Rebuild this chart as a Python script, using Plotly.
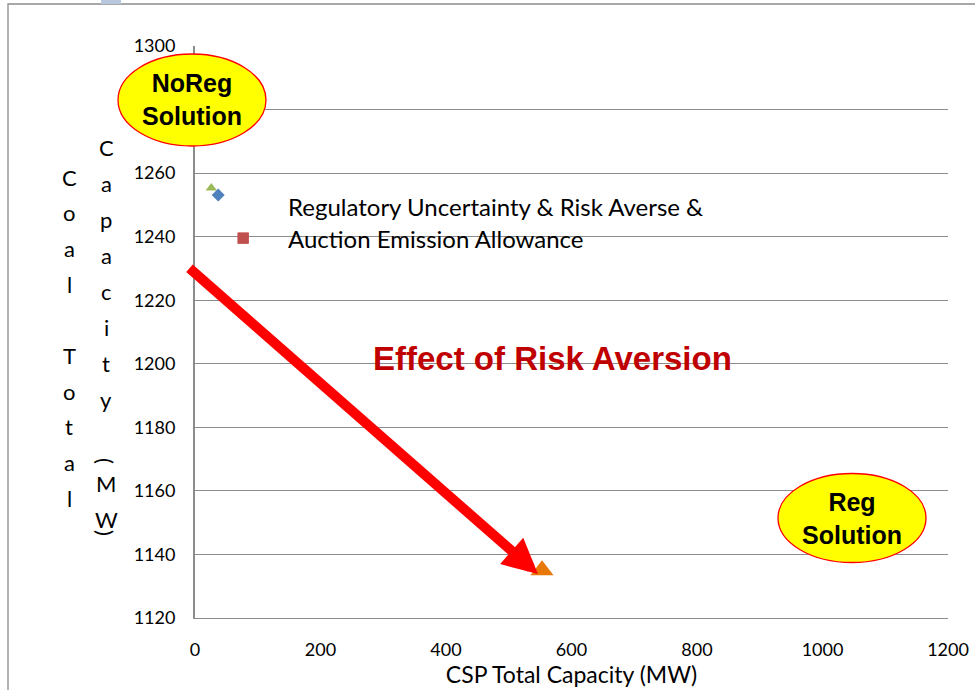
import plotly.graph_objects as go

# CSP total capacity (MW) vs coal total capacity (MW) for each case
noreg_x = [26]
noreg_y = [1255.3]
base_x = [37]
base_y = [1253.1]
risk_name = "Regulatory Uncertainty & Risk Averse &<br>Auction Emission Allowance"
risk_x = [77]
risk_y = [1239.6]
reg_x = [553]
reg_y = [1135]

x_ticks = [0, 200, 400, 600, 800, 1000, 1200]
y_ticks = [1120, 1140, 1160, 1180, 1200, 1220, 1240, 1260, 1280, 1300]
# the 1280 label sits under the NoReg callout, so it is left blank
y_tick_text = ["1120", "1140", "1160", "1180", "1200", "1220", "1240", "1260", "", "1300"]

# Plot area in pixels (left, right, top, bottom) of the 975x690 page
W, H = 975, 690
L, R, T, B = 195, 948, 46, 618


def px(x):
    return (x - L) / (R - L)


def py(y):
    return (B - y) / (B - T)


fig = go.Figure()

fig.add_trace(go.Scatter(x=reg_x, y=reg_y, mode="markers", showlegend=False,
                         marker=dict(symbol="triangle-up", size=20, color="#E8780A")))
fig.add_trace(go.Scatter(x=noreg_x, y=noreg_y, mode="markers", showlegend=False,
                         marker=dict(symbol="triangle-up", size=10, color="#9BBB59")))
fig.add_trace(go.Scatter(x=base_x, y=base_y, mode="markers", showlegend=False,
                         marker=dict(symbol="diamond", size=10, color="#4F81BD")))
fig.add_trace(go.Scatter(x=risk_x, y=risk_y, mode="markers", name=risk_name, showlegend=True,
                         marker=dict(symbol="square", size=11, color="#C0504D")))

font_main = "Lato, Carlito, Calibri, sans-serif"
font_bold = "Liberation Sans, Arial, sans-serif"

shapes = []
# chart frame and small tab at top
shapes.append(dict(type="rect", xref="paper", yref="paper",
                   x0=px(8), x1=px(990), y0=py(700), y1=py(4),
                   line=dict(color="#8C8C8C", width=1.3), fillcolor="rgba(0,0,0,0)", layer="below"))
shapes.append(dict(type="rect", xref="paper", yref="paper",
                   x0=px(101), x1=px(121), y0=py(4), y1=py(-2),
                   line=dict(width=0), fillcolor="#B9C7DE", layer="below"))

annotations = []

# stacked-letter y-axis title, two columns
col1 = ["C", "o", "a", "l", "", "T", "o", "t", "a", "l"]
col1_y = [177 + 35.7 * i for i in range(len(col1))]
col2 = ["C", "a", "p", "a", "c", "i", "t", "y", "(", "M", "W", ")"]
col2_y = [147 + 36.1 * i for i in range(8)] + [461, 483, 519, 533]
for ch, yy in zip(col1, col1_y):
    if ch:
        annotations.append(dict(x=px(69), y=py(yy), xref="paper", yref="paper", text=ch,
                                showarrow=False, font=dict(family=font_main, size=22, color="#000"),
                                xanchor="center", yanchor="middle"))
for ch, yy in zip(col2, col2_y):
    ang = 90 if ch in "()" else 0
    annotations.append(dict(x=px(106), y=py(yy), xref="paper", yref="paper", text=ch,
                            textangle=ang, showarrow=False,
                            font=dict(family=font_main, size=22, color="#000"),
                            xanchor="center", yanchor="middle"))

# solution callouts
ellipses = [("NoReg<br>Solution", 192, 100, 148, 92),
            ("Reg<br>Solution", 852, 518, 148, 89)]
for txt, cx, cy, w, h in ellipses:
    shapes.append(dict(type="circle", xref="paper", yref="paper",
                       x0=px(cx - w / 2), x1=px(cx + w / 2),
                       y0=py(cy + h / 2), y1=py(cy - h / 2),
                       fillcolor="#FFFF00", line=dict(color="#FF0000", width=1.3), layer="above"))
    annotations.append(dict(x=px(cx), y=py(cy), xref="paper", yref="paper",
                            text="<b>" + txt.replace("<br>", "</b><br><b>") + "</b>",
                            showarrow=False, font=dict(family=font_bold, size=25, color="#000"),
                            xanchor="center", yanchor="middle"))

# risk-aversion arrow and label
annotations.append(dict(x=px(538), y=py(574), ax=px(188), ay=py(267),
                        xref="x domain", yref="y domain", axref="x domain", ayref="y domain",
                        text="", showarrow=True, arrowhead=2, arrowsize=0.7, arrowwidth=10,
                        arrowcolor="#FF0000"))
annotations.append(dict(x=px(552), y=py(358), xref="paper", yref="paper",
                        text="<b>Effect of Risk Aversion</b>", showarrow=False,
                        font=dict(family=font_bold, size=33, color="#C00000"),
                        xanchor="center", yanchor="middle"))

fig.update_layout(
    width=W, height=H,
    margin=dict(l=L, r=W - R, t=T, b=H - B, autoexpand=False),
    paper_bgcolor="white", plot_bgcolor="white",
    shapes=shapes, annotations=annotations,
    showlegend=True,
    legend=dict(x=px(198), y=py(185), xanchor="left", yanchor="top",
                bgcolor="rgba(0,0,0,0)", valign="bottom", itemwidth=80,
                font=dict(family=font_main, size=24, color="#000")),
    xaxis=dict(range=[0, 1200], tickvals=x_ticks, showgrid=False, zeroline=False,
               showline=True, linecolor="#8C8C8C", linewidth=1,
               ticks="", ticklabelstandoff=15, automargin=False,
               tickfont=dict(family=font_main, size=18, color="#000"),
               title=dict(text="CSP Total Capacity (MW)", standoff=4,
                          font=dict(family=font_main, size=23, color="#000"))),
    yaxis=dict(range=[1120, 1300], tickvals=y_ticks, ticktext=y_tick_text,
               showgrid=True, gridcolor="#8C8C8C",
               gridwidth=1, zeroline=False, showline=True, linecolor="#8C8C8C", linewidth=2,
               ticks="", ticklabelstandoff=14, automargin=False,
               tickfont=dict(family=font_main, size=18, color="#000")),
)

fig.write_html("out.html")
